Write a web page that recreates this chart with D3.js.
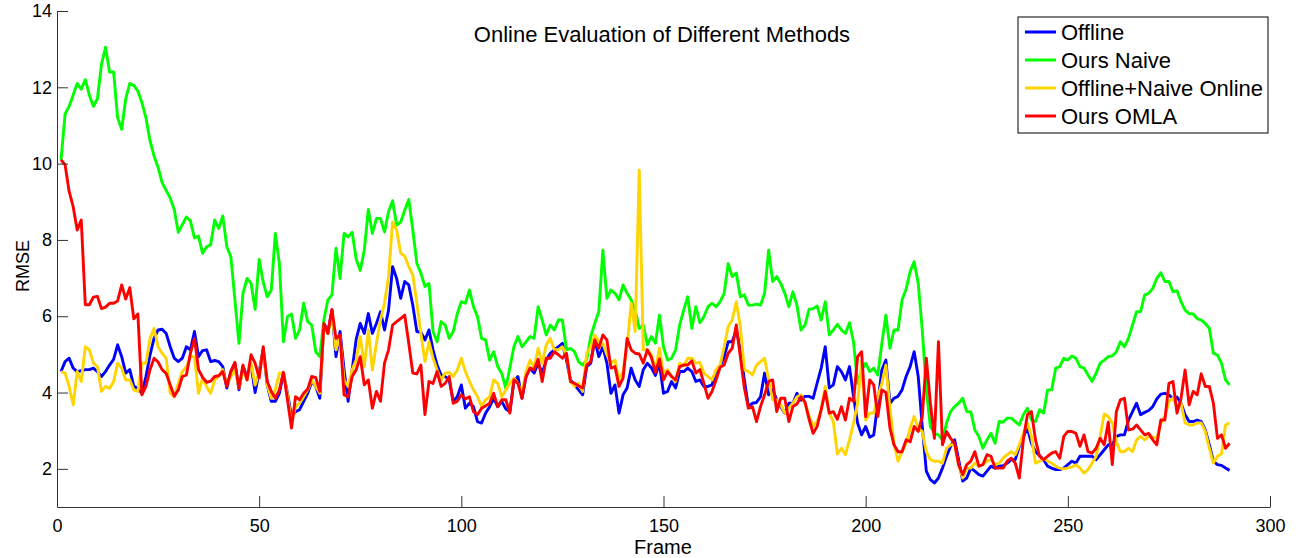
<!DOCTYPE html>
<html>
<head>
<meta charset="utf-8">
<script src="https://cdn.jsdelivr.net/npm/d3@7"></script>
<style>
  body { margin: 0; background: #fff; }
  svg { display: block; font-family: "Liberation Sans", Arial, sans-serif; }
  .axis path, .axis line { stroke: #333; }
  .axis text { fill: #000; font-size: 18px; font-family: "Liberation Sans", Arial, sans-serif; }
</style>
</head>
<body>
<svg id="chart" width="1302" height="558"></svg>
<script>
// series values, one per frame (1..290)
var offline = [
  4.55, 4.81, 4.9, 4.64, 4.55, 4.57, 4.6, 4.6, 4.64, 4.55,
  4.42, 4.55, 4.72, 4.87, 5.25, 4.94, 4.51, 4.6, 4.16, 4.11,
  3.98, 4.42, 4.98, 5.42, 5.64, 5.66, 5.55, 5.2, 4.9, 4.81,
  4.9, 5.2, 5.12, 5.6, 4.94, 5.1, 5.12, 4.81, 4.84, 4.81,
  4.68, 4.12, 4.55, 4.77, 4.07, 4.68, 4.42, 4.72, 4.0, 4.55,
  5.12, 4.2, 3.77, 3.77, 3.98, 4.51, 3.98, 3.37, 3.5, 3.55,
  3.77, 3.98, 4.29, 4.16, 3.85, 5.81, 5.6, 6.16, 4.94, 5.6,
  4.6, 3.77, 4.6, 5.4, 5.81, 5.55, 6.07, 5.55, 5.81, 6.12,
  5.64, 6.16, 7.3, 6.99, 6.47, 6.91, 6.82, 6.29, 5.6, 5.58,
  5.38, 5.64, 5.12, 4.72, 4.46, 4.42, 4.33, 3.77, 3.89, 4.2,
  3.59, 3.72, 3.63, 3.24, 3.2, 3.46, 3.63, 3.85, 3.63, 3.77,
  3.57, 3.5, 4.29, 4.42, 3.85, 4.42, 4.64, 4.51, 4.77, 4.51,
  4.85, 5.03, 5.12, 5.2, 5.29, 4.85, 4.33, 4.2, 4.07, 3.94,
  4.68, 4.77, 5.38, 4.94, 5.2, 4.77, 3.98, 4.2, 3.46, 3.94,
  4.12, 4.64, 4.33, 4.16, 4.6, 4.77, 4.65, 4.45, 4.75, 3.98,
  4.03, 4.29, 4.12, 4.55, 4.55, 4.64, 4.55, 4.29, 4.33, 4.16,
  4.16, 4.2, 4.55, 4.68, 4.94, 5.33, 5.33, 5.64, 5.12, 4.33,
  3.63, 3.72, 3.74, 3.89, 4.51, 3.94, 4.07, 3.81, 3.63, 3.46,
  3.72, 3.72, 3.98, 3.8, 3.9, 3.9, 3.85, 4.25, 4.64, 5.2,
  4.12, 4.2, 4.68, 4.55, 4.33, 4.68, 3.89, 3.2, 2.89, 3.11,
  2.83, 2.89, 3.72, 4.59, 4.85, 3.72, 3.85, 3.9, 4.07, 4.42,
  4.68, 5.07, 4.42, 3.11, 1.94, 1.72, 1.63, 1.76, 2.02, 2.33,
  2.59, 2.76, 2.24, 1.68, 1.76, 2.02, 1.94, 1.85, 1.81, 1.94,
  2.07, 2.02, 2.07, 2.08, 2.15, 2.24, 2.24, 2.59, 2.85, 3.07,
  2.67, 2.45, 2.35, 2.24, 2.07, 2.02, 1.98, 1.98, 2.02, 2.11,
  2.2, 2.15, 2.33, 2.33, 2.33, 2.33, 2.24, 2.37, 2.5, 2.63,
  2.63, 2.85, 2.89, 2.89, 3.28, 3.5, 3.72, 3.42, 3.48, 3.53,
  3.63, 3.83, 3.96, 3.98, 3.94, 3.83, 3.88, 3.72, 3.42, 3.24,
  3.24, 3.28, 3.24, 3.02, 2.63, 2.2, 2.11, 2.09, 2.02, 1.96
];

var oursNaive = [
  10.1, 11.3, 11.5, 11.8, 12.1, 11.95, 12.2, 11.8, 11.5, 11.7,
  12.6, 13.05, 12.4, 12.4, 11.2, 10.9, 11.7, 12.1, 12.05, 11.9,
  11.6, 11.2, 10.6, 10.2, 9.9, 9.5, 9.3, 9.1, 8.8, 8.2,
  8.4, 8.6, 8.5, 8.05, 8.1, 7.65, 7.82, 7.87, 8.52, 8.3,
  8.63, 7.82, 7.56, 6.43, 5.29, 6.6, 6.99, 6.86, 6.18, 7.49,
  6.9, 6.51, 6.69, 8.17, 7.38, 5.33, 5.99, 6.06, 5.42, 5.64,
  6.34, 5.86, 5.77, 5.07, 4.94, 5.9, 6.43, 6.56, 7.78, 6.99,
  8.17, 8.08, 8.2, 7.5, 7.2, 7.73, 8.8, 8.17, 8.56, 8.56,
  8.21, 8.74, 9.03, 8.39, 8.47, 8.78, 9.06, 8.26, 7.39, 7.13,
  6.78, 6.86, 5.6, 5.33, 5.86, 5.77, 5.42, 5.6, 6.07, 6.38,
  6.34, 6.69, 6.25, 5.99, 5.42, 5.38, 4.85, 5.07, 4.68, 4.5,
  4.11, 4.65, 5.2, 5.47, 5.2, 5.33, 5.47, 5.42, 6.25, 5.9,
  5.51, 5.77, 5.64, 5.9, 5.9, 5.12, 5.16, 5.07, 4.81, 4.72,
  4.85, 5.47, 5.81, 6.12, 7.73, 6.47, 6.69, 6.6, 6.43, 6.82,
  6.6, 6.43, 6.16, 5.68, 5.77, 5.25, 5.47, 5.29, 6.03, 5.2,
  4.85, 4.9, 5.12, 5.77, 6.16, 6.51, 5.68, 6.25, 5.83, 5.99,
  6.25, 6.34, 6.25, 6.38, 6.6, 7.38, 7.04, 7.13, 6.51, 6.56,
  6.29, 6.29, 6.32, 6.29, 6.6, 7.73, 6.91, 7.04, 6.86, 6.6,
  6.25, 6.64, 6.29, 5.64, 5.77, 6.18, 6.2, 6.27, 5.9, 6.38,
  5.51, 5.64, 5.79, 5.64, 5.55, 5.83, 5.33, 4.24, 4.59, 4.77,
  4.55, 4.64, 4.46, 5.29, 6.03, 5.16, 5.64, 5.64, 6.43, 6.71,
  7.17, 7.43, 6.86, 5.64, 4.07, 3.11, 2.93, 2.89, 2.76, 3.2,
  3.5, 3.63, 3.72, 3.85, 3.5, 3.5, 3.02, 2.85, 2.54, 2.76,
  2.93, 2.67, 3.24, 3.22, 3.33, 3.33, 3.24, 3.15, 3.42, 3.59,
  3.28, 3.24, 3.55, 3.46, 4.07, 4.07, 4.64, 4.68, 4.9, 4.85,
  4.96, 4.9, 4.68, 4.64, 4.46, 4.29, 4.51, 4.77, 4.85, 4.94,
  4.96, 5.07, 5.33, 5.2, 5.42, 5.77, 6.12, 6.12, 6.56, 6.6,
  6.73, 6.99, 7.14, 6.91, 6.91, 6.64, 6.67, 6.38, 6.16, 6.07,
  6.06, 5.94, 5.9, 5.81, 5.68, 5.03, 4.98, 4.77, 4.33, 4.2
];

var offlineNaiveOnline = [
  4.55, 4.51, 4.16, 3.68, 4.55, 4.29, 5.2, 5.12, 4.77, 4.68,
  4.03, 4.16, 4.11, 4.29, 4.77, 4.64, 4.33, 4.33, 4.07, 4.03,
  4.77, 4.77, 5.42, 5.68, 5.2, 5.03, 4.9, 3.98, 3.89, 4.24,
  4.55, 4.68, 4.94, 4.94, 3.98, 4.38, 4.16, 3.98, 4.33, 4.42,
  4.6, 4.2, 4.42, 4.6, 4.12, 4.6, 4.33, 4.77, 4.2, 4.51,
  5.12, 4.2, 3.85, 4.07, 4.51, 4.51, 3.94, 3.2, 3.63, 3.72,
  3.89, 4.07, 4.33, 4.16, 3.98, 5.73, 5.55, 6.07, 5.12, 5.47,
  4.33, 4.16, 4.6, 4.85, 5.47, 4.68, 5.64, 4.59, 5.29, 5.9,
  6.34, 7.04, 8.47, 8.26, 7.65, 7.58, 7.3, 7.08, 6.34, 5.55,
  4.81, 5.33, 4.9, 4.59, 4.33, 4.51, 4.53, 4.42, 4.59, 4.9,
  4.55, 4.29, 4.07, 3.89, 3.63, 3.81, 3.89, 4.33, 4.24, 3.89,
  4.07, 4.24, 4.38, 4.24, 3.98, 4.55, 4.85, 4.64, 5.16, 4.77,
  5.25, 5.42, 5.12, 5.12, 5.2, 4.99, 4.29, 4.16, 4.24, 4.03,
  5.03, 5.2, 5.51, 5.33, 5.29, 4.99, 4.77, 4.85, 4.33, 4.55,
  5.2, 6.34, 5.6, 9.83, 5.12, 5.12, 5.0, 4.6, 5.16, 4.51,
  4.6, 4.42, 4.29, 4.77, 4.7, 4.9, 4.9, 4.77, 4.79, 4.51,
  4.42, 4.33, 4.6, 4.72, 5.2, 5.73, 5.9, 6.38, 5.73, 4.6,
  4.55, 4.46, 4.72, 4.81, 4.9, 4.33, 3.81, 3.81, 3.68, 3.46,
  3.59, 3.72, 3.89, 3.94, 3.72, 3.4, 3.11, 3.24, 3.55, 4.16,
  3.46, 3.24, 2.39, 2.54, 2.37, 2.76, 3.2, 3.72, 4.81, 3.28,
  3.46, 3.46, 3.89, 4.24, 4.72, 3.59, 2.67, 2.2, 2.45, 2.67,
  3.07, 3.37, 3.07, 2.98, 2.45, 2.24, 2.2, 2.2, 2.15, 2.54,
  2.63, 2.63, 2.1, 1.76, 2.02, 2.02, 2.15, 2.07, 2.11, 2.2,
  2.24, 2.11, 2.15, 2.28, 2.37, 2.45, 2.37, 2.63, 2.93, 3.2,
  2.85, 2.15, 2.2, 2.28, 2.2, 2.15, 2.07, 2.02, 2.0, 2.02,
  2.05, 2.11, 2.02, 1.89, 1.98, 2.15, 2.33, 2.85, 3.44, 3.37,
  3.2, 2.71, 2.45, 2.45, 2.54, 2.45, 2.76, 2.85, 2.76, 2.85,
  2.83, 2.8, 3.2, 3.37, 3.77, 3.85, 3.63, 3.72, 3.2, 3.15,
  3.15, 3.2, 3.2, 2.98, 2.54, 2.15, 2.33, 2.39, 3.15, 3.2
];

var oursOMLA = [
  10.1, 9.97, 9.27, 8.87, 8.26, 8.52, 6.3, 6.3, 6.5, 6.52,
  6.2, 6.24, 6.34, 6.34, 6.4, 6.82, 6.45, 6.75, 5.93, 6.06,
  3.94, 4.16, 4.6, 4.9, 4.8, 4.6, 4.5, 4.2, 3.9, 4.07,
  4.42, 4.46, 5.03, 5.42, 4.6, 4.4, 4.27, 4.3, 4.42, 4.44,
  4.55, 4.16, 4.55, 4.79, 4.12, 4.72, 4.33, 4.99, 4.77, 4.38,
  5.2, 4.29, 4.03, 3.85, 4.07, 4.53, 3.81, 3.07, 3.89, 3.81,
  3.98, 4.09, 4.42, 4.39, 4.03, 5.81, 5.55, 6.18, 5.42, 5.51,
  3.94, 3.89, 4.42, 4.6, 4.94, 4.2, 4.33, 3.59, 4.03, 3.77,
  4.77, 5.12, 5.77, 5.86, 5.94, 6.03, 5.29, 4.51, 4.49, 4.72,
  3.42, 4.29, 4.24, 4.55, 4.16, 4.24, 4.42, 3.72, 3.77, 3.94,
  3.83, 3.89, 3.5, 3.42, 3.59, 3.65, 3.72, 3.98, 3.63, 3.81,
  3.81, 3.46, 4.33, 4.24, 3.85, 4.42, 4.64, 4.6, 4.87, 4.29,
  4.9, 4.9, 5.07, 4.99, 4.9, 5.03, 4.29, 4.24, 4.17, 4.12,
  4.72, 4.81, 5.38, 5.16, 5.51, 5.38, 4.64, 4.68, 4.16, 4.38,
  5.42, 5.12, 5.03, 5.01, 4.77, 5.12, 4.92, 4.53, 4.88, 4.33,
  4.55, 4.42, 4.33, 4.68, 4.72, 4.72, 4.83, 4.51, 4.6, 4.24,
  3.85, 4.03, 4.33, 4.66, 4.72, 5.03, 5.16, 5.77, 4.94, 4.12,
  3.59, 3.63, 3.24, 3.63, 3.94, 4.29, 4.33, 3.5, 3.85, 3.85,
  3.24, 3.63, 3.7, 3.89, 3.75, 3.3, 2.93, 3.11, 3.55, 4.03,
  3.46, 3.5, 3.3, 3.63, 3.28, 3.85, 3.77, 4.94, 5.07, 3.37,
  4.33, 4.2, 3.37, 4.07, 4.0, 3.07, 2.63, 2.45, 2.45, 2.76,
  2.71, 3.11, 2.98, 3.37, 4.9, 3.72, 2.8, 5.33, 2.63, 2.98,
  2.8, 2.67, 2.1, 1.85, 2.11, 2.2, 2.45, 2.07, 2.11, 2.37,
  2.33, 2.02, 2.02, 2.02, 2.2, 2.28, 2.15, 1.76, 2.76, 3.42,
  3.5, 2.76, 2.33, 2.24, 2.33, 2.41, 2.45, 2.28, 2.85, 2.98,
  2.98, 2.93, 2.59, 2.89, 2.45, 2.41, 2.54, 2.8, 2.63, 3.22,
  2.11, 3.5, 3.81, 3.85, 3.02, 3.04, 3.15, 3.02, 2.89, 2.93,
  2.76, 2.63, 3.28, 3.28, 4.24, 4.29, 3.46, 3.85, 4.59, 3.68,
  4.03, 3.94, 4.49, 4.16, 4.16, 3.72, 2.8, 2.89, 2.54, 2.67
];

var seriesNames = ["Offline", "Ours Naive", "Offline+Naive Online", "Ours OMLA"];
var seriesColors = ["#0000ff", "#00ff00", "#ffd400", "#ff0000"];
var xTicks = [0, 50, 100, 150, 200, 250, 300];
var yTicks = [2, 4, 6, 8, 10, 12, 14];

var series = [offline, oursNaive, offlineNaiveOnline, oursOMLA].map(function (vals, i) {
  return { name: seriesNames[i], color: seriesColors[i], values: vals };
});

var svg = d3.select("#chart");
var x = d3.scaleLinear().domain([0, 300]).range([57, 1270]);
var y = d3.scaleLinear().domain([1, 14]).range([507, 11]);

var line = d3.line()
  .x(function (d, i) { return x(i + 1); })
  .y(function (d) { return y(d); });

svg.append("g")
  .selectAll("path")
  .data(series)
  .enter()
  .append("path")
  .attr("fill", "none")
  .attr("stroke", function (d) { return d.color; })
  .attr("stroke-width", 2.9)
  .attr("stroke-linejoin", "round")
  .attr("d", function (d) { return line(d.values); });

svg.append("g")
  .attr("class", "axis")
  .attr("transform", "translate(0,507)")
  .call(d3.axisBottom(x).tickValues(xTicks).tickSizeInner(-11).tickSizeOuter(0).tickPadding(12));

svg.append("g")
  .attr("class", "axis")
  .attr("transform", "translate(57,0)")
  .call(d3.axisLeft(y).tickValues(yTicks).tickSizeInner(-11).tickSizeOuter(0).tickPadding(5));

svg.append("text")
  .attr("x", 662).attr("y", 42)
  .attr("text-anchor", "middle")
  .style("font-size", "22px")
  .text("Online Evaluation of Different Methods");

svg.append("text")
  .attr("x", 663).attr("y", 554)
  .attr("text-anchor", "middle")
  .style("font-size", "20px")
  .text("Frame");

svg.append("text")
  .attr("transform", "translate(29,266) rotate(-90)")
  .attr("text-anchor", "middle")
  .style("font-size", "18px")
  .text("RMSE");

// legend
var legend = svg.append("g").attr("transform", "translate(1018,17)");
legend.append("rect")
  .attr("width", 250).attr("height", 116)
  .attr("fill", "#fff").attr("stroke", "#000").attr("stroke-width", 1);

var item = legend.selectAll("g.item")
  .data(series)
  .enter()
  .append("g")
  .attr("class", "item")
  .attr("transform", function (d, i) { return "translate(0," + (15 + i * 28) + ")"; });

item.append("line")
  .attr("x1", 7).attr("x2", 38)
  .attr("stroke", function (d) { return d.color; })
  .attr("stroke-width", 3);

item.append("text")
  .attr("x", 43).attr("y", 8)
  .style("font-size", "22px")
  .text(function (d) { return d.name; });
</script>
</body>
</html>
